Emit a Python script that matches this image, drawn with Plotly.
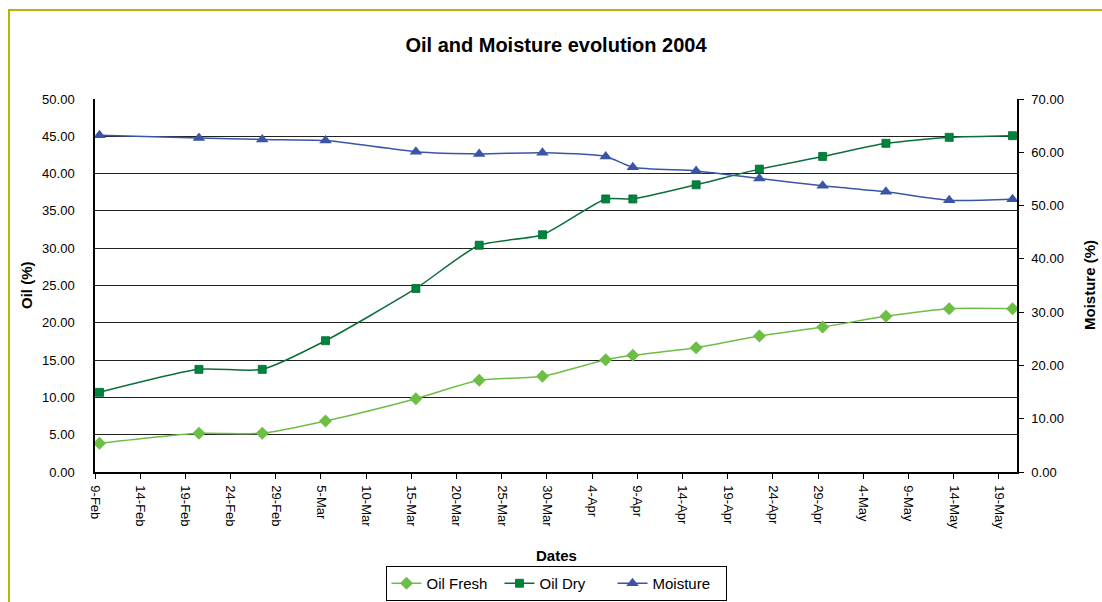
import pandas as pd
import plotly.graph_objects as go

# ---- data ----
dates = ["2004-02-09", "2004-02-20", "2004-02-27", "2004-03-05", "2004-03-15",
         "2004-03-22", "2004-03-29", "2004-04-05", "2004-04-08", "2004-04-15",
         "2004-04-22", "2004-04-29", "2004-05-06", "2004-05-13", "2004-05-20"]
oil_fresh = [3.85, 5.19, 5.19, 6.84, 9.83, 12.29, 12.83, 15.06, 15.64, 16.66,
             18.23, 19.44, 20.87, 21.89, 21.89]
oil_dry = [10.68, 13.76, 13.76, 17.6, 24.6, 30.4, 31.8, 36.6, 36.6, 38.5,
           40.6, 42.3, 44.06, 44.86, 45.08]
moisture = [63.2, 62.7, 62.4, 62.2, 60.1, 59.7, 59.9, 59.2, 57.2, 56.5,
            55.1, 53.7, 52.6, 51.0, 51.2]

title_text = "Oil and Moisture evolution 2004"
left_title = "Oil (%)"
right_title = "Moisture (%)"
x_title = "Dates"

# Excel date axis: each day plotted in the middle of its day interval
x = pd.to_datetime(dates) + pd.Timedelta(hours=12)

FONT = "Arial, Liberation Sans, sans-serif"
C_FRESH = "#6DBE45"
C_DRY_M = "#00843D"
C_DRY_L = "#0A6E3C"
C_MOIST = "#3A55A6"

fig = go.Figure()
fig.add_trace(go.Scatter(
    x=x, y=oil_fresh, name="Oil Fresh", mode="lines+markers",
    line=dict(color=C_FRESH, width=1.5, shape="spline", smoothing=0.6),
    marker=dict(symbol="diamond", size=10, color=C_FRESH)))
fig.add_trace(go.Scatter(
    x=x, y=oil_dry, name="Oil Dry", mode="lines+markers",
    line=dict(color=C_DRY_L, width=1.5, shape="spline", smoothing=0.6),
    marker=dict(symbol="square", size=8, color=C_DRY_M,
                line=dict(color="#006B30", width=0.8))))
fig.add_trace(go.Scatter(
    x=x, y=moisture, name="Moisture", mode="lines+markers", yaxis="y2",
    line=dict(color=C_MOIST, width=1.5, shape="spline", smoothing=0.6),
    marker=dict(symbol="triangle-up", size=11, color=C_MOIST)))

L, R, T, B = 95, 85, 99, 130
W, H = 1102, 602
pw, ph = W - L - R, H - T - B

def px_x(p):
    return (p - L) / pw

def px_y(p):
    return (H - B - p) / ph

fig.update_layout(
    width=W, height=H,
    margin=dict(l=L, r=R, t=T, b=B, autoexpand=False),
    paper_bgcolor="white", plot_bgcolor="white",
    font=dict(family=FONT, size=13, color="black"),
    title=dict(text="<b>" + title_text + "</b>", x=px_x(556), xref="paper",
               xanchor="center", y=1 - 45 / H, yanchor="middle",
               font=dict(family=FONT, size=20, color="black")),
    showlegend=True,
    legend=dict(orientation="h", x=0.5, xanchor="center", y=px_y(566),
                yanchor="top", bordercolor="black", borderwidth=1,
                font=dict(family=FONT, size=15, color="black"),
                itemwidth=30, tracegroupgap=0, traceorder="normal",
                entrywidth=68, entrywidthmode="pixels"),
    xaxis=dict(type="date", range=["2004-02-09", "2004-05-21"],
               tick0="2004-02-09", dtick=5 * 86400000, tickformat="%-d-%b",
               tickangle=90, ticks="outside", ticklen=5, tickcolor="black",
               showline=True, linecolor="black", linewidth=1.5, mirror=False,
               showgrid=False, zeroline=False, ticklabelstandoff=4,
               tickfont=dict(family=FONT, size=13, color="black")),
    # left axis: labels pushed out with long transparent ticks
    yaxis=dict(range=[0, 50], dtick=5, tickformat=".2f",
               ticks="outside", ticklen=16, tickcolor="rgba(0,0,0,0)",
               showline=True, linecolor="black", linewidth=1.5,
               showgrid=True, gridcolor="#222222", gridwidth=1,
               zeroline=False,
               tickfont=dict(family=FONT, size=13, color="black")),
    # overlay carrying the visible short left tick marks
    yaxis3=dict(range=[0, 50], dtick=5, overlaying="y", side="left",
                anchor="x", ticks="outside", ticklen=5, tickcolor="black",
                showticklabels=False, showline=False, showgrid=False,
                zeroline=False),
    yaxis2=dict(range=[0, 70], dtick=10, tickformat=".2f", overlaying="y",
                side="right", ticks="outside", ticklen=5, tickcolor="black",
                showline=True, linecolor="black", linewidth=1.5,
                showgrid=False, zeroline=False, ticklabelstandoff=5,
                tickfont=dict(family=FONT, size=13, color="black")),
)

fig.add_annotation(text="<b>" + left_title + "</b>", xref="paper", yref="paper",
                   x=px_x(26), y=px_y(285), xanchor="center", yanchor="middle",
                   textangle=-90, showarrow=False,
                   font=dict(family=FONT, size=15, color="black"))
fig.add_annotation(text="<b>" + right_title + "</b>", xref="paper", yref="paper",
                   x=px_x(1089), y=px_y(285), xanchor="center", yanchor="middle",
                   textangle=-90, showarrow=False,
                   font=dict(family=FONT, size=15, color="black"))
fig.add_annotation(text="<b>" + x_title + "</b>", xref="paper", yref="paper",
                   x=px_x(556), y=px_y(555), xanchor="center", yanchor="middle",
                   showarrow=False,
                   font=dict(family=FONT, size=15, color="black"))

# outer chart-area border (olive), top and left edges visible
fig.add_shape(type="rect", xref="paper", yref="paper",
              x0=px_x(9), x1=px_x(1120), y0=px_y(640), y1=px_y(10),
              line=dict(color="#B8B400", width=2), layer="below")

fig.write_html("out.html",
               config={"displayModeBar": False},
               post_script="document.body.style.margin='0';"
                           "document.body.style.overflow='hidden';")
